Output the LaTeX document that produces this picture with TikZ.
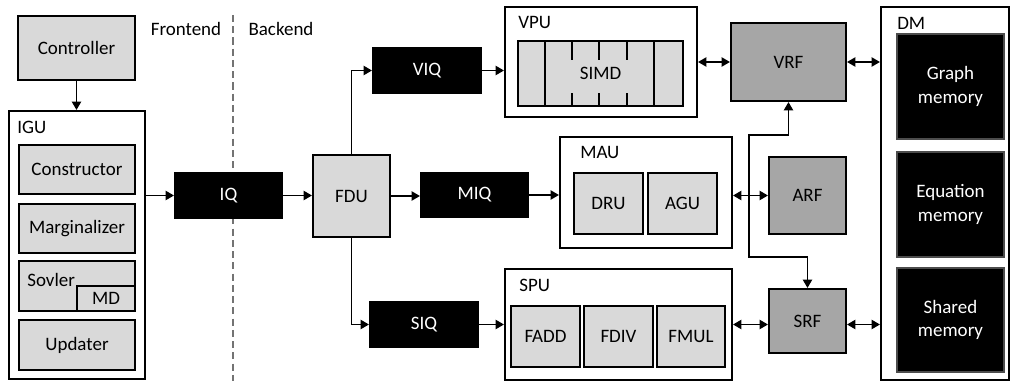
\documentclass[tikz,border=0pt]{standalone}
\usepackage{fontspec}
\setmainfont{Carlito}
\usepackage{tikz}
\usetikzlibrary{positioning,arrows.meta}

\begin{document}
\begin{tikzpicture}[>={Triangle[length=6pt,width=6.5pt]},
    font=\fontsize{13.5}{16.5}\selectfont,
    unit/.style={rectangle, draw=black, line width=1.4pt, fill=white, inner sep=0pt},
    block/.style={rectangle, draw=black, line width=1.4pt, fill=black!15, inner sep=0pt, align=center},
    queue/.style={rectangle, draw=black, line width=1.4pt, fill=black, text=white, inner sep=0pt, minimum height=1.125cm},
    regfile/.style={rectangle, draw=black, line width=1.4pt, fill=black!35, inner sep=0pt},
    memory/.style={rectangle, draw=black!70, line width=1pt, fill=black, text=white, align=center, minimum width=2.675cm, minimum height=2.625cm},
    tag/.style={inner sep=0pt, anchor=north west},
    divider/.style={draw=black!55, line width=1.2pt, dash pattern=on 5pt off 3pt},
    arrow/.style={line width=1.4pt, ->},
    biarrow/.style={line width=1.4pt, <->}]

    \useasboundingbox (0,0) rectangle (25.275,9.55);

    % frontend
    \node[block, minimum width=2.925cm, minimum height=1.6cm] at (1.9125,8.35) (controller) {Controller};
    \node[unit, minimum width=3.4cm, minimum height=6.7cm] at (1.925,3.425) (IGU) {};
    \node[tag, below right=0.27cm and 0.225cm of IGU.north west] (IGUtag) {IGU};
    \node[block, minimum width=2.9cm, minimum height=1.225cm] at (1.925,5.3125) (constructor) {Constructor};
    \node[block, minimum width=2.9cm, minimum height=1.225cm] at (1.925,3.8375) (marginalizer) {Marginalizer};
    \node[block, minimum width=2.9cm, minimum height=1.25cm] at (1.925,2.4) (sovler) {};
    \node[tag, below right=0.32cm and 0.225cm of sovler.north west] (sovlertag) {Sovler};
    \node[block, anchor=south east, minimum width=1.45cm, minimum height=0.625cm] at (sovler.south east) (MD) {MD};
    \node[block, minimum width=2.9cm, minimum height=1.25cm] at (1.925,0.925) (updater) {Updater};

    \node at (4.65,8.825) (frontend) {Frontend};
    \node at (7.025,8.825) (backend) {Backend};
    \draw[divider] (5.825,9.175) -- (5.825,0.025);

    \node[queue, minimum width=2.675cm] at (5.7125,4.6625) (IQ) {IQ};

    % backend
    \node[block, minimum width=1.925cm, minimum height=2.05cm] at (8.7875,4.65) (FDU) {FDU};
    \node[queue, minimum width=2.7cm] at (10.675,7.7875) (VIQ) {VIQ};
    \node[queue, minimum width=2.675cm, minimum height=1.1cm] at (11.8625,4.675) (MIQ) {MIQ};
    \node[queue, minimum width=2.7cm] at (10.6,1.4375) (SIQ) {SIQ};

    \node[unit, minimum width=4.8cm, minimum height=2.75cm] at (15.025,8.0) (VPU) {};
    \node[tag, below right=0.25cm and 0.35cm of VPU.north west] (VPUtag) {VPU};
    \node[block, minimum width=4.125cm, minimum height=1.625cm] at (15.0125,7.7125) (SIMD) {SIMD};
    \foreach \dx in {0.7,3.425}
        \draw[line width=1.4pt] ([xshift=\dx cm]SIMD.north west) -- ([xshift=\dx cm]SIMD.south west);
    \foreach \dx in {1.375,2.05,2.75} {
        \draw[line width=1.4pt] ([xshift=\dx cm]SIMD.north west) -- ++(0,-0.5);
        \draw[line width=1.4pt] ([xshift=\dx cm]SIMD.south west) -- ++(0,0.35);
    }

    \node[unit, minimum width=4.3cm, minimum height=2.775cm] at (16.15,4.7375) (MAU) {};
    \node[tag, below right=0.25cm and 0.525cm of MAU.north west] (MAUtag) {MAU};
    \node[block, minimum width=1.725cm, minimum height=1.525cm] at (15.2125,4.4625) (DRU) {DRU};
    \node[block, minimum width=1.725cm, minimum height=1.525cm] at (17.0625,4.4625) (AGU) {AGU};

    \node[unit, minimum width=5.675cm, minimum height=2.775cm] at (15.4625,1.4375) (SPU) {};
    \node[tag, below right=0.27cm and 0.375cm of SPU.north west] (SPUtag) {SPU};
    \node[block, minimum width=1.725cm, minimum height=1.525cm] at (13.6375,1.1375) (FADD) {FADD};
    \node[block, minimum width=1.725cm, minimum height=1.525cm] at (15.4625,1.1375) (FDIV) {FDIV};
    \node[block, minimum width=1.7cm, minimum height=1.525cm] at (17.275,1.1375) (FMUL) {FMUL};

    \node[regfile, minimum width=2.875cm, minimum height=1.95cm] at (19.7125,8.0) (VRF) {VRF};
    \node[regfile, minimum width=1.925cm, minimum height=1.925cm] at (20.1875,4.6625) (ARF) {ARF};
    \node[regfile, minimum width=1.925cm, minimum height=1.6cm] at (20.1875,1.525) (SRF) {SRF};

    \node[unit, minimum width=3.2cm, minimum height=9.325cm] at (23.625,4.7125) (DM) {};
    \node[tag, below right=0.27cm and 0.425cm of DM.north west] (DMtag) {DM};
    \node[memory] at (23.7625,7.3875) (graphmem) {Graph\\memory};
    \node[memory] at (23.7625,4.4375) (equationmem) {Equation\\memory};
    \node[memory, minimum height=2.6cm] at (23.7625,1.55) (sharedmem) {Shared\\memory};

    \coordinate (busTop) at (18.725,6.175);
    \coordinate (busBot) at (18.725,3.125);

    \draw[arrow] (controller.south) -- (controller.south |- IGU.north);
    \draw[arrow] (IQ.west -| IGU.east) -- (IQ);
    \draw[arrow] (IQ) -- (IQ -| FDU.west);
    \draw[arrow] (FDU) |- (VIQ);
    \draw[arrow] (FDU) -- (FDU -| MIQ.west);
    \draw[arrow] (FDU) |- (SIQ);
    \draw[arrow] (VIQ) -- (VIQ -| VPU.west);
    \draw[arrow] (MIQ) -- (MIQ -| MAU.west);
    \draw[arrow] (SIQ) -- (SPU);
    \draw[biarrow] (VPU) -- (VRF);
    \draw[biarrow] (VRF) -- (VRF -| DM.west);
    \draw[biarrow] (ARF.west -| MAU.east) -- (ARF);
    \draw[biarrow] (SPU) -- (SPU -| SRF.west);
    \draw[biarrow] (SPU -| SRF.east) -- (SPU -| DM.west);
    \draw[biarrow] (VRF.south) |- (busTop) -- (busBot) -| (SRF.north);
\end{tikzpicture}
\end{document}
